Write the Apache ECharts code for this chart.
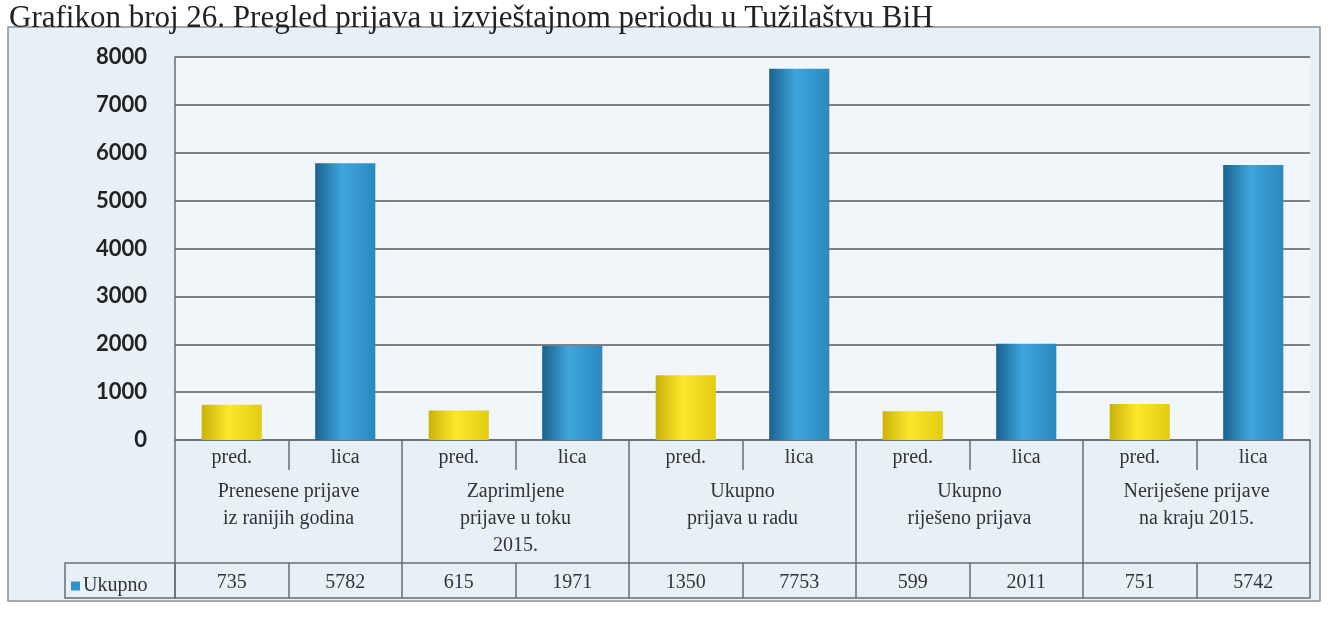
<!DOCTYPE html>
<html>
<head>
<meta charset="UTF-8">
<title>Grafikon broj 26</title>
<style>
  html, body { margin: 0; padding: 0; background: #fff; }
  #chart { width: 1335px; height: 617px; }
</style>
<script src="https://cdn.jsdelivr.net/npm/echarts@6/dist/echarts.min.js"></script>
</head>
<body>
<div id="chart"></div>
<script>
// podaci
var kategorije = ['pred.', 'lica', 'pred.', 'lica', 'pred.', 'lica', 'pred.', 'lica', 'pred.', 'lica'];
var grupe = [
  'Prenesene prijave\niz ranijih godina',
  'Zaprimljene\nprijave u toku\n2015.',
  'Ukupno\nprijava u radu',
  'Ukupno\nriješeno prijava',
  'Neriješene prijave\nna kraju 2015.'
];
var ukupno = [735, 5782, 615, 1971, 1350, 7753, 599, 2011, 751, 5742];
var yTicks = [0, 8000, 1000];

var chart = echarts.init(document.getElementById('chart'));

var serif = '"Liberation Serif", "DejaVu Serif", serif';
var lineCol = '#6a6e72';

function grad(a, b, c) {
  return new echarts.graphic.LinearGradient(0, 0, 1, 0, [
    { offset: 0, color: a }, { offset: 0.45, color: b }, { offset: 1, color: c }
  ]);
}
var zuta = grad('#c9b20a', '#fbe82a', '#e2cc12');
var plava = grad('#1b618f', '#3ea6dc', '#2b88bf');

var tick = function (len) {
  return { show: true, interval: 0, length: len, lineStyle: { color: lineCol, width: 1.5 } };
};

var option = {
  animation: false,
  backgroundColor: '#fff',
  title: {
    text: 'Grafikon broj 26. Pregled prijava u izvještajnom periodu u Tužilaštvu BiH',
    left: 4, top: -2,
    textStyle: { fontFamily: serif, fontWeight: 'normal', fontSize: 31, color: '#222' }
  },
  graphic: [
    { type: 'rect', z: -10, shape: { x: 8, y: 27, width: 1312, height: 574 },
      style: { fill: '#e7eff7', stroke: '#8a8e92', lineWidth: 1.5 } },
    { type: 'rect', z: 5, shape: { x: 65, y: 563, width: 110, height: 35 },
      style: { fill: 'none', stroke: lineCol, lineWidth: 1.5 } }
  ],
  legend: {
    left: 66, top: 571,
    icon: 'rect', itemWidth: 9, itemHeight: 9, itemGap: 4,
    data: [{ name: 'Ukupno', itemStyle: { color: '#2e90cc' } }],
    textStyle: { fontFamily: serif, fontSize: 20, color: '#333', padding: [0, 0, 0, -2] }
  },
  grid: {
    left: 175, right: 25, top: 57, bottom: 177,
    show: true, backgroundColor: '#f1f6fb', borderWidth: 0
  },
  xAxis: [
    {
      type: 'category', data: kategorije, position: 'bottom',
      axisLine: { lineStyle: { color: lineCol, width: 1.5 } },
      axisTick: tick(30),
      axisLabel: { margin: 8, fontFamily: serif, fontSize: 20, color: '#333' }
    },
    {
      type: 'category', data: grupe, position: 'bottom',
      axisLine: { show: false },
      axisTick: tick(158),
      axisLabel: { margin: 38, fontFamily: serif, fontSize: 20, lineHeight: 27, color: '#333', verticalAlign: 'top' }
    },
    {
      type: 'category', data: ukupno.map(String), position: 'bottom', offset: 123,
      axisLine: { lineStyle: { color: lineCol, width: 1.5 } },
      axisTick: tick(35),
      axisLabel: { margin: 10, fontFamily: serif, fontSize: 20, color: '#333' }
    },
    {
      type: 'category', data: kategorije, position: 'bottom', offset: 158,
      axisLine: { lineStyle: { color: lineCol, width: 1.5 } },
      axisTick: { show: false },
      axisLabel: { show: false }
    }
  ],
  yAxis: {
    type: 'value', min: yTicks[0], max: yTicks[1], interval: yTicks[2],
    axisLine: { show: true, lineStyle: { color: lineCol, width: 1.5 } },
    axisTick: { show: false },
    splitLine: { lineStyle: { color: '#56595c', width: 1.5 } },
    axisLabel: {
      margin: 28, fontFamily: 'Lato, "DejaVu Sans", sans-serif', fontWeight: 'bold', fontSize: 22, color: '#222',
      formatter: function (v) { return String(v); }
    }
  },
  series: [{
    name: 'Ukupno',
    type: 'bar',
    data: ukupno,
    barWidth: '53%',
    itemStyle: {
      color: function (p) { return p.dataIndex % 2 ? plava : zuta; }
    }
  }]
};

chart.setOption(option);
</script>
</body>
</html>
